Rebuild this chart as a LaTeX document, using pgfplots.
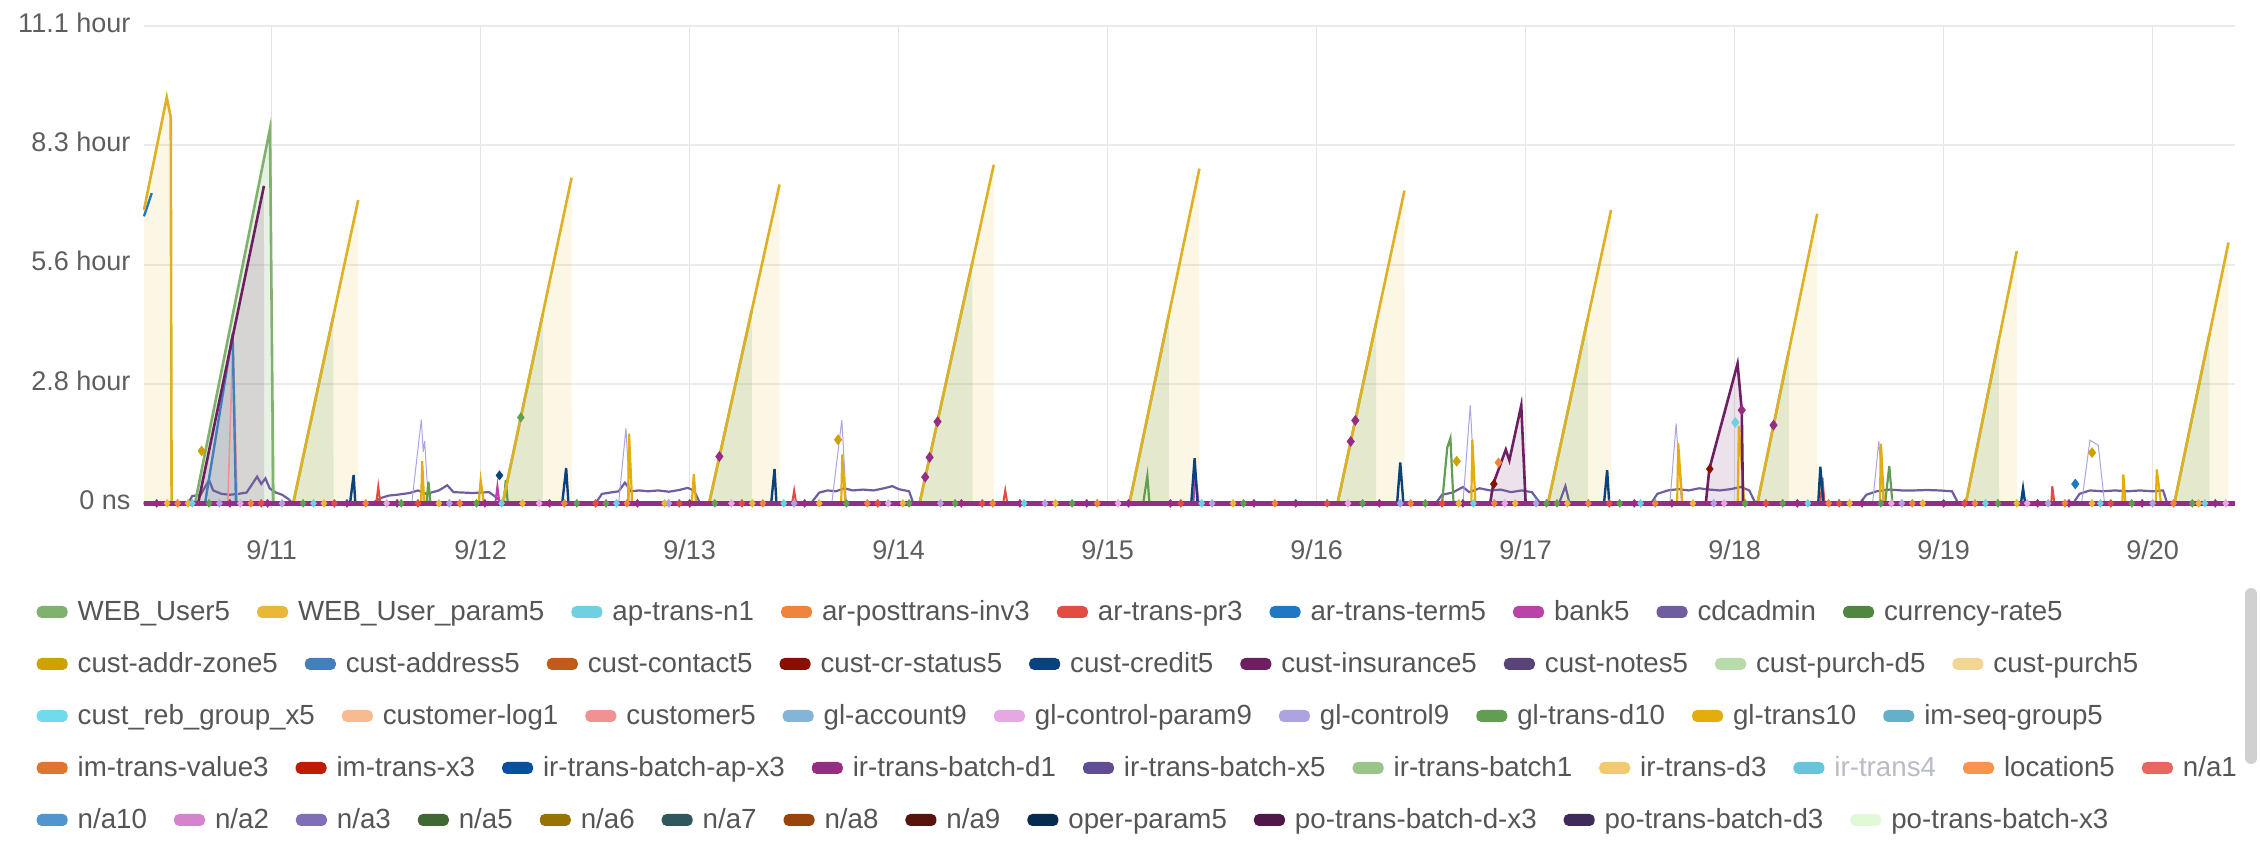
\documentclass[border=0pt]{standalone}
\usepackage{pgfplots}
\pgfplotsset{compat=1.18}
\usepackage{pgfplotstable}
\usepackage{fontspec}
\setmainfont{Liberation Sans}
\newcommand{\ticfont}{\fontsize{13.5}{16}\selectfont}
\newcommand{\legfont}{\fontsize{13.85}{16}\selectfont}
\definecolor{c01}{HTML}{7EB26D}\definecolor{c02}{HTML}{EAB839}\definecolor{c03}{HTML}{6ED0E0}
\definecolor{c04}{HTML}{EF843C}\definecolor{c05}{HTML}{E24D42}\definecolor{c06}{HTML}{1F78C1}
\definecolor{c07}{HTML}{BA43A9}\definecolor{c08}{HTML}{705DA0}\definecolor{c09}{HTML}{508642}
\definecolor{c10}{HTML}{CCA300}\definecolor{c11}{HTML}{447EBC}\definecolor{c12}{HTML}{C15C17}
\definecolor{c13}{HTML}{890F02}\definecolor{c14}{HTML}{0A437C}\definecolor{c15}{HTML}{6D1F62}
\definecolor{c16}{HTML}{584477}\definecolor{c17}{HTML}{B7DBAB}\definecolor{c18}{HTML}{F4D598}
\definecolor{c19}{HTML}{70DBED}\definecolor{c20}{HTML}{F9BA8F}\definecolor{c21}{HTML}{F29191}
\definecolor{c22}{HTML}{82B5D8}\definecolor{c23}{HTML}{E5A8E2}\definecolor{c24}{HTML}{AEA2E0}
\definecolor{c25}{HTML}{629E51}\definecolor{c26}{HTML}{E5AC0E}\definecolor{c27}{HTML}{64B0C8}
\definecolor{c28}{HTML}{E0752D}\definecolor{c29}{HTML}{BF1B00}\definecolor{c30}{HTML}{0A50A1}
\definecolor{c31}{HTML}{962D82}\definecolor{c32}{HTML}{614D93}\definecolor{c33}{HTML}{9AC48A}
\definecolor{c34}{HTML}{F2C96D}\definecolor{c35}{HTML}{65C5DB}\definecolor{c36}{HTML}{F9934E}
\definecolor{c37}{HTML}{EA6460}\definecolor{c38}{HTML}{5195CE}\definecolor{c39}{HTML}{D683CE}
\definecolor{c40}{HTML}{806EB7}\definecolor{c41}{HTML}{3F6833}\definecolor{c42}{HTML}{967302}
\definecolor{c43}{HTML}{2F575E}\definecolor{c44}{HTML}{99440A}\definecolor{c45}{HTML}{58140C}
\definecolor{c46}{HTML}{052B51}\definecolor{c47}{HTML}{511749}\definecolor{c48}{HTML}{3F2B5B}
\definecolor{c49}{HTML}{E0F9D7}
\definecolor{ticktext}{HTML}{5E5E5E}
\definecolor{legtext}{HTML}{555555}
\definecolor{hidtext}{HTML}{B8BCC4}
\definecolor{gridh}{HTML}{EBEBEB}
\definecolor{gridv}{HTML}{E4E4E4}
\definecolor{scrollc}{HTML}{D0D0D0}

% ---------------- data ----------------
\pgfplotstableread{
x y
0.389 0
10.394 0
}\tzero
% WEB_User_param5 : line (yl, nan = gap) and fill (yf)
\pgfplotstableread{
x yl yf
0.389 6.83 6.83
0.498 9.45 9.45
0.517 8.99 8.99
0.521 0 0
1.103 0 0
1.414 7.06 7.06
1.415 nan 0
2.105 0 0
2.435 7.58 7.58
2.436 nan 0
3.093 0 0
3.430 7.42 7.42
3.431 nan 0
4.100 0 0
4.455 7.88 7.88
4.456 nan 0
5.104 0 0
5.439 7.79 7.79
5.440 nan 0
6.100 0 0
6.420 7.28 7.28
6.421 nan 0
7.107 0 0
7.409 6.83 6.83
7.410 nan 0
8.109 0 0
8.395 6.74 6.74
8.396 nan 0
9.106 0 0
9.350 5.87 5.87
9.351 nan 0
10.104 0 0
10.363 6.07 6.07
}\tyellow
% WEB_User5
\pgfplotstableread{
x yl yf
0.633 0 0
0.992 8.72 8.72
1.008 0 0
1.103 0 0
1.295 4.36 4.36
1.296 nan 0
2.105 0 0
2.297 4.41 4.41
2.298 nan 0
3.093 0 0
3.297 4.49 4.49
3.298 nan 0
4.100 0 0
4.353 5.62 5.62
4.354 nan 0
5.104 0 0
5.293 4.39 4.39
5.294 nan 0
6.100 0 0
6.284 4.19 4.19
6.285 nan 0
7.107 0 0
7.297 4.30 4.30
7.298 nan 0
8.109 0 0
8.259 3.53 3.53
8.260 nan 0
9.106 0 0
9.264 3.80 3.80
9.265 nan 0
10.104 0 0
10.272 3.94 3.94
10.273 nan 0
}\tgreen
% cust-insurance5
\pgfplotstableread{
x yl yf
0.648 0 0
0.963 7.39 7.39
0.964 nan 0
6.830 0 0
6.845 0.45 0.45
6.905 1.25 1.25
6.922 1.00 1.00
6.979 2.28 2.28
7.000 0 0
7.862 0 0
7.879 0.80 0.80
8.014 3.25 3.25
8.034 2.17 2.17
8.040 0 0
}\tplum
% cust-address5
\pgfplotstableread{
x y
0.681 0
0.813 3.95
0.829 0
}\tblue
% ar-trans-term5
\pgfplotstableread{
x y
0.389 6.68
0.426 7.22
}\tstart
\pgfplotstableread{
x y
9.630 0.45
}\tstartmk
% customer5 thin line beside the blue drop
\pgfplotstableread{
x y
0.790 0
0.815 3.85
0.835 0
}\tpink
% cdcadmin noise band
\pgfplotstableread{
x y
0.389 0
0.60 0
0.62 0.17
0.66 0.20
0.70 0.54
0.72 0.30
0.76 0.22
0.80 0.20
0.84 0.22
0.88 0.25
0.93 0.62
0.95 0.45
0.97 0.58
0.99 0.35
1.02 0.25
1.05 0.20
1.08 0.10
1.10 0
1.48 0
1.52 0.12
1.56 0.18
1.60 0.20
1.66 0.24
1.70 0.30
1.74 0.22
1.80 0.30
1.84 0.42
1.87 0.26
1.92 0.25
1.96 0.24
2.00 0.25
2.04 0.26
2.08 0.12
2.10 0
2.55 0
2.58 0.22
2.62 0.25
2.66 0.28
2.69 0.48
2.72 0.28
2.76 0.30
2.80 0.28
2.85 0.30
2.90 0.27
2.95 0.31
2.99 0.36
3.02 0.30
3.05 0
3.58 0
3.62 0.25
3.66 0.30
3.70 0.28
3.74 0.35
3.78 0.30
3.83 0.32
3.88 0.30
3.93 0.35
3.97 0.40
4.00 0.33
4.05 0.28
4.07 0
6.57 0
6.60 0.20
6.65 0.25
6.70 0.38
6.73 0.26
6.78 0.35
6.83 0.30
6.88 0.32
6.93 0.26
6.98 0.30
7.03 0.26
7.07 0
7.16 0
7.19 0.40
7.21 0
7.60 0
7.63 0.22
7.68 0.30
7.73 0.33
7.78 0.30
7.83 0.35
7.88 0.32
7.93 0.30
7.98 0.33
8.03 0.38
8.07 0.30
8.10 0
8.60 0
8.63 0.20
8.68 0.28
8.74 0.32
8.80 0.30
8.86 0.30
8.92 0.31
8.98 0.30
9.04 0.28
9.07 0
9.62 0
9.65 0.22
9.70 0.30
9.76 0.28
9.82 0.30
9.88 0.28
9.94 0.30
10.00 0.28
10.05 0.30
10.07 0
10.394 0
}\tband
% gl-control9 faint spikes
\pgfplotstableread{
x y
0.389 0
1.670 0
1.716 1.95
1.725 1.20
1.732 1.45
1.750 0
2.660 0
2.695 1.75
2.715 0
3.680 0
3.728 1.94
3.750 0
6.700 0
6.735 2.28
6.760 0
7.690 0
7.720 1.86
7.745 0
8.660 0
8.690 1.45
8.710 0
9.660 0
9.700 1.47
9.740 1.35
9.770 0
10.394 0
}\tlav
% gl-trans10 thin yellow spikes
\pgfplotstableread{
x y
0.389 0
1.715 0
1.720 0.98
1.730 0
1.990 0
2.000 0.54
2.015 0
2.705 0
2.710 1.62
2.725 0
3.010 0
3.020 0.68
3.030 0
3.725 0
3.730 1.14
3.745 0
6.740 0
6.745 1.48
6.760 0
7.725 0
7.730 1.40
7.750 0
8.015 0
8.020 1.80
8.040 0.50
8.045 0
8.695 0
8.700 1.39
8.715 0
9.855 0
9.860 0.67
9.870 0
10.015 0
10.020 0.79
10.040 0
10.394 0
}\tgold
% cust-credit5 spikes
\pgfplotstableread{
x y
0.389 0
1.375 0
1.392 0.66
1.400 0
2.390 0
2.409 0.82
2.420 0
3.390 0
3.406 0.80
3.415 0
5.400 0
5.416 1.05
5.430 0
6.385 0
6.400 0.95
6.415 0
7.375 0
7.390 0.77
7.400 0
8.400 0
8.410 0.85
8.425 0
9.370 0
9.380 0.35
9.390 0
10.394 0
}\tnavy
% ar-trans-pr3 spikes
\pgfplotstableread{
x y
0.389 0
1.500 0
1.510 0.39
1.520 0
3.490 0
3.500 0.30
3.510 0
4.500 0
4.510 0.30
4.520 0
8.410 0
8.420 0.60
8.430 0
9.515 0
9.520 0.40
9.530 0
10.394 0
}\tred
% gl-trans-d10 spikes
\pgfplotstableread{
x y
0.389 0
1.740 0
1.750 0.50
1.760 0
2.110 0
2.120 0.54
2.130 0
5.170 0
5.190 0.64
5.200 0
6.600 0
6.625 1.30
6.640 1.52
6.655 0
8.720 0
8.740 0.87
8.755 0
10.394 0
}\tgtd
% bank5 spikes
\pgfplotstableread{
x y
0.389 0
2.070 0
2.080 0.40
2.090 0
5.410 0
5.420 0.68
5.435 0
10.394 0
}\tbank
% markers
\pgfplotstableread{
x y
3.142 1.09
4.127 0.61
4.148 1.07
4.186 1.90
6.163 1.44
6.185 1.93
8.186 1.82
8.034 2.17
}\tmkplum
\pgfplotstableread{
x y
0.665 1.22
3.710 1.48
6.670 0.98
9.710 1.18
}\tmkgold
\pgfplotstableread{
x y
8.003 1.88
}\tmkcyan
\pgfplotstableread{
x y
6.848 0.45
7.881 0.80
}\tmkmaroon
\pgfplotstableread{
x y
6.870 0.95
}\tmkorange
\pgfplotstableread{
x y
2.192 2.00
}\tmkgreen
\pgfplotstableread{
x y
2.090 0.65
}\tmknavy
% baseline markers (value 0)
\pgfplotstableread{
x y
0.45 0
0.80 0
0.98 0
1.36 0
1.60 0
2.02 0
2.33 0
2.75 0
3.00 0
3.55 0
4.30 0
4.58 0
4.90 0
5.10 0
5.30 0
5.70 0
5.90 0
6.30 0
6.70 0
7.52 0
7.70 0
8.30 0
8.61 0
9.00 0
9.45 0
9.60 0
9.95 0
10.30 0
}\bmA
\pgfplotstableread{
x y
0.70 0
1.15 0
1.62 0
1.98 0
2.46 0
2.60 0
3.12 0
3.75 0
4.05 0
4.27 0
4.83 0
5.65 0
6.22 0
6.52 0
7.10 0
7.15 0
7.45 0
8.05 0
8.23 0
8.70 0
9.26 0
9.90 0
10.19 0
}\bmB
\pgfplotstableread{
x y
0.55 0
0.90 0
1.45 0
1.90 0
2.40 0
2.70 0
3.35 0
3.85 0
4.45 0
4.95 0
5.80 0
6.45 0
6.85 0
7.30 0
7.62 0
8.45 0
8.85 0
9.15 0
9.58 0
10.10 0
}\bmC
\pgfplotstableread{
x y
0.50 0
0.60 0
1.25 0
1.80 0
2.20 0
2.88 0
3.30 0
3.62 0
4.02 0
4.75 0
5.60 0
6.68 0
6.95 0
7.20 0
7.80 0
8.55 0
8.90 0
9.35 0
9.71 0
10.22 0
}\bmD
\pgfplotstableread{
x y
0.95 0
1.30 0
1.70 0
2.55 0
2.95 0
3.25 0
3.90 0
4.40 0
5.35 0
6.05 0
6.60 0
7.40 0
8.15 0
8.50 0
9.10 0
9.80 0
}\bmE
\pgfplotstableread{
x y
0.75 0
1.05 0
1.85 0
2.90 0
3.50 0
4.20 0
4.70 0
5.50 0
6.40 0
7.05 0
7.90 0
8.80 0
9.50 0
10.00 0
}\bmF
\pgfplotstableread{
x y
0.62 0
1.20 0
2.10 0
2.65 0
3.45 0
4.60 0
5.45 0
6.75 0
7.55 0
8.35 0
9.20 0
9.75 0
10.25 0
}\bmG
\pgfplotstableread{
x y
0.85 0
1.55 0
2.28 0
3.20 0
3.95 0
5.05 0
6.15 0
6.90 0
7.95 0
8.75 0
9.40 0
10.35 0
}\bmH

\pgfplotsset{
  swatch/.style={legend image code/.code={\fill[##1, rounded corners=2.5pt] (0pt,-3pt) rectangle (15.5pt,3pt);}},
  legrow/.style={hide axis, scale only axis, width=1pt, height=1pt, anchor=west,
    xmin=0, xmax=1, ymin=0, ymax=1, swatch, legend columns=-1,
    legend style={at={(0,0.5)}, anchor=west, draw=none, fill=none, inner sep=0pt, outer sep=0pt,
      font=\legfont, text=legtext, nodes={inner sep=0pt, anchor=west},
      /tikz/every odd column/.append style={column sep=5pt},
      /tikz/every even column/.append style={column sep=13.5pt}}},
  bmk/.style={only marks, mark=diamond*, mark size=1.9pt, forget plot},
}

\begin{document}
\begin{tikzpicture}
\useasboundingbox (0,0) rectangle (1130pt,427pt);
\begin{axis}[
  at={(72pt,172.75pt)}, anchor=south west, scale only axis,
  width=1045.5pt, height=241.25pt,
  xmin=0.389, xmax=10.394, ymin=-0.12, ymax=11.1111,
  xtick={1,2,3,4,5,6,7,8,9,10},
  xticklabels={9/11,9/12,9/13,9/14,9/15,9/16,9/17,9/18,9/19,9/20},
  ytick={0,2.77778,5.55556,8.33333,11.1111},
  yticklabels={0 ns,2.8 hour,5.6 hour,8.3 hour,11.1 hour},
  xmajorgrids, ymajorgrids,
  x grid style={color=gridv, line width=0.5pt},
  y grid style={color=gridh, line width=1pt},
  axis line style={draw=none},
  major tick length=0pt, tick style={draw=none},
  tick label style={font=\ticfont, text=ticktext},
  xticklabel style={yshift=-12pt},
  yticklabel style={xshift=-3.3pt, yshift=1.75pt},
  clip=false,
  unbounded coords=jump,
]
% fills
\addplot[draw=none, fill=c02, fill opacity=0.13, forget plot] table[x=x,y=yf]{\tyellow} \closedcycle;
\addplot[draw=none, fill=c01, fill opacity=0.19, forget plot] table[x=x,y=yf]{\tgreen} \closedcycle;
\addplot[draw=none, fill=c15, fill opacity=0.13, forget plot] table[x=x,y=yf]{\tplum} \closedcycle;
\addplot[draw=none, fill=c11, fill opacity=0.12, forget plot] table[x=x,y=y]{\tblue} \closedcycle;
% zero baselines for quiet series
\pgfplotsinvokeforeach{c04,c07,c09,c12,c16,c17,c18,c19,c20,c22,c23,c27,c28,c29,c30,c32,c33,c34,c36,c37,c38,c39,c40,c41,c42,c43,c44,c45,c46,c47,c48,c49}{
  \addplot[color=#1, line width=1pt, forget plot] table[x=x,y=y]{\tzero};
}
% small series
\addplot[color=c08, line width=1.1pt, forget plot] table[x=x,y=y]{\tband};
\addplot[color=c24, line width=0.5pt, forget plot] table[x=x,y=y]{\tlav};
\addplot[color=c25, line width=1.1pt, forget plot] table[x=x,y=y]{\tgtd};
\addplot[color=c07, line width=1pt, forget plot] table[x=x,y=y]{\tbank};
\addplot[color=c05, line width=1pt, forget plot] table[x=x,y=y]{\tred};
\addplot[color=c14, line width=1.2pt, forget plot] table[x=x,y=y]{\tnavy};
\addplot[color=c26, line width=1.1pt, forget plot] table[x=x,y=y]{\tgold};
\addplot[color=c21, line width=0.8pt, forget plot] table[x=x,y=y]{\tpink};
% main ramps
\addplot[color=c01, line width=1.3pt, forget plot] table[x=x,y=yl]{\tgreen};
\addplot[color=c11, line width=1.2pt, forget plot] table[x=x,y=y]{\tblue};
\addplot[color=c06, line width=1.2pt, forget plot] table[x=x,y=y]{\tstart};
\addplot[color=c15, line width=1.3pt, forget plot] table[x=x,y=yl]{\tplum};
\addplot[color=c02!60!c10, line width=1.3pt, forget plot] table[x=x,y=yl]{\tyellow};
% baseline
\addplot[color=c31, line width=2.2pt, forget plot] table[x=x,y=y]{\tzero};
% markers
\addplot[only marks, mark=diamond*, mark size=2.4pt, color=c31, forget plot] table[x=x,y=y]{\tmkplum};
\addplot[only marks, mark=diamond*, mark size=2.4pt, color=c10, forget plot] table[x=x,y=y]{\tmkgold};
\addplot[only marks, mark=diamond*, mark size=2.4pt, color=c03, forget plot] table[x=x,y=y]{\tmkcyan};
\addplot[only marks, mark=diamond*, mark size=2.2pt, color=c13, forget plot] table[x=x,y=y]{\tmkmaroon};
\addplot[only marks, mark=diamond*, mark size=2.2pt, color=c04, forget plot] table[x=x,y=y]{\tmkorange};
\addplot[only marks, mark=diamond*, mark size=2.2pt, color=c25, forget plot] table[x=x,y=y]{\tmkgreen};
\addplot[only marks, mark=diamond*, mark size=2.2pt, color=c14, forget plot] table[x=x,y=y]{\tmknavy};
\addplot[only marks, mark=diamond*, mark size=2.4pt, color=c06, forget plot] table[x=x,y=y]{\tstartmk};
\addplot[bmk, color=c31] table[x=x,y=y]{\bmA};
\addplot[bmk, color=c25] table[x=x,y=y]{\bmB};
\addplot[bmk, color=c04] table[x=x,y=y]{\bmC};
\addplot[bmk, color=c02] table[x=x,y=y]{\bmD};
\addplot[bmk, color=c05] table[x=x,y=y]{\bmE};
\addplot[bmk, color=c24] table[x=x,y=y]{\bmF};
\addplot[bmk, color=c03] table[x=x,y=y]{\bmG};
\addplot[bmk, color=c23] table[x=x,y=y]{\bmH};
\end{axis}

% legend rows
\begin{axis}[legrow, at={(18.35pt,121pt)}]
\addlegendimage{fill=c01,draw=none}\addlegendentry{WEB\_User5}
\addlegendimage{fill=c02,draw=none}\addlegendentry{WEB\_User\_param5}
\addlegendimage{fill=c03,draw=none}\addlegendentry{ap-trans-n1}
\addlegendimage{fill=c04,draw=none}\addlegendentry{ar-posttrans-inv3}
\addlegendimage{fill=c05,draw=none}\addlegendentry{ar-trans-pr3}
\addlegendimage{fill=c06,draw=none}\addlegendentry{ar-trans-term5}
\addlegendimage{fill=c07,draw=none}\addlegendentry{bank5}
\addlegendimage{fill=c08,draw=none}\addlegendentry{cdcadmin}
\addlegendimage{fill=c09,draw=none}\addlegendentry{currency-rate5}
\end{axis}
\begin{axis}[legrow, at={(18.35pt,95pt)}]
\addlegendimage{fill=c10,draw=none}\addlegendentry{cust-addr-zone5}
\addlegendimage{fill=c11,draw=none}\addlegendentry{cust-address5}
\addlegendimage{fill=c12,draw=none}\addlegendentry{cust-contact5}
\addlegendimage{fill=c13,draw=none}\addlegendentry{cust-cr-status5}
\addlegendimage{fill=c14,draw=none}\addlegendentry{cust-credit5}
\addlegendimage{fill=c15,draw=none}\addlegendentry{cust-insurance5}
\addlegendimage{fill=c16,draw=none}\addlegendentry{cust-notes5}
\addlegendimage{fill=c17,draw=none}\addlegendentry{cust-purch-d5}
\addlegendimage{fill=c18,draw=none}\addlegendentry{cust-purch5}
\end{axis}
\begin{axis}[legrow, at={(18.35pt,69pt)}]
\addlegendimage{fill=c19,draw=none}\addlegendentry{cust\_reb\_group\_x5}
\addlegendimage{fill=c20,draw=none}\addlegendentry{customer-log1}
\addlegendimage{fill=c21,draw=none}\addlegendentry{customer5}
\addlegendimage{fill=c22,draw=none}\addlegendentry{gl-account9}
\addlegendimage{fill=c23,draw=none}\addlegendentry{gl-control-param9}
\addlegendimage{fill=c24,draw=none}\addlegendentry{gl-control9}
\addlegendimage{fill=c25,draw=none}\addlegendentry{gl-trans-d10}
\addlegendimage{fill=c26,draw=none}\addlegendentry{gl-trans10}
\addlegendimage{fill=c27,draw=none}\addlegendentry{im-seq-group5}
\end{axis}
\begin{axis}[legrow, at={(18.35pt,43pt)}]
\addlegendimage{fill=c28,draw=none}\addlegendentry{im-trans-value3}
\addlegendimage{fill=c29,draw=none}\addlegendentry{im-trans-x3}
\addlegendimage{fill=c30,draw=none}\addlegendentry{ir-trans-batch-ap-x3}
\addlegendimage{fill=c31,draw=none}\addlegendentry{ir-trans-batch-d1}
\addlegendimage{fill=c32,draw=none}\addlegendentry{ir-trans-batch-x5}
\addlegendimage{fill=c33,draw=none}\addlegendentry{ir-trans-batch1}
\addlegendimage{fill=c34,draw=none}\addlegendentry{ir-trans-d3}
\addlegendimage{fill=c35,draw=none}\addlegendentry{\textcolor{hidtext}{ir-trans4}}
\addlegendimage{fill=c36,draw=none}\addlegendentry{location5}
\addlegendimage{fill=c37,draw=none}\addlegendentry{n/a1}
\end{axis}
\begin{axis}[legrow, at={(18.35pt,17pt)}]
\addlegendimage{fill=c38,draw=none}\addlegendentry{n/a10}
\addlegendimage{fill=c39,draw=none}\addlegendentry{n/a2}
\addlegendimage{fill=c40,draw=none}\addlegendentry{n/a3}
\addlegendimage{fill=c41,draw=none}\addlegendentry{n/a5}
\addlegendimage{fill=c42,draw=none}\addlegendentry{n/a6}
\addlegendimage{fill=c43,draw=none}\addlegendentry{n/a7}
\addlegendimage{fill=c44,draw=none}\addlegendentry{n/a8}
\addlegendimage{fill=c45,draw=none}\addlegendentry{n/a9}
\addlegendimage{fill=c46,draw=none}\addlegendentry{oper-param5}
\addlegendimage{fill=c47,draw=none}\addlegendentry{po-trans-batch-d-x3}
\addlegendimage{fill=c48,draw=none}\addlegendentry{po-trans-batch-d3}
\addlegendimage{fill=c49,draw=none}\addlegendentry{po-trans-batch-x3}
\end{axis}
\fill[scrollc, rounded corners=3pt] (1122.5pt,45pt) rectangle (1128.5pt,133pt);
\end{tikzpicture}
\end{document}
